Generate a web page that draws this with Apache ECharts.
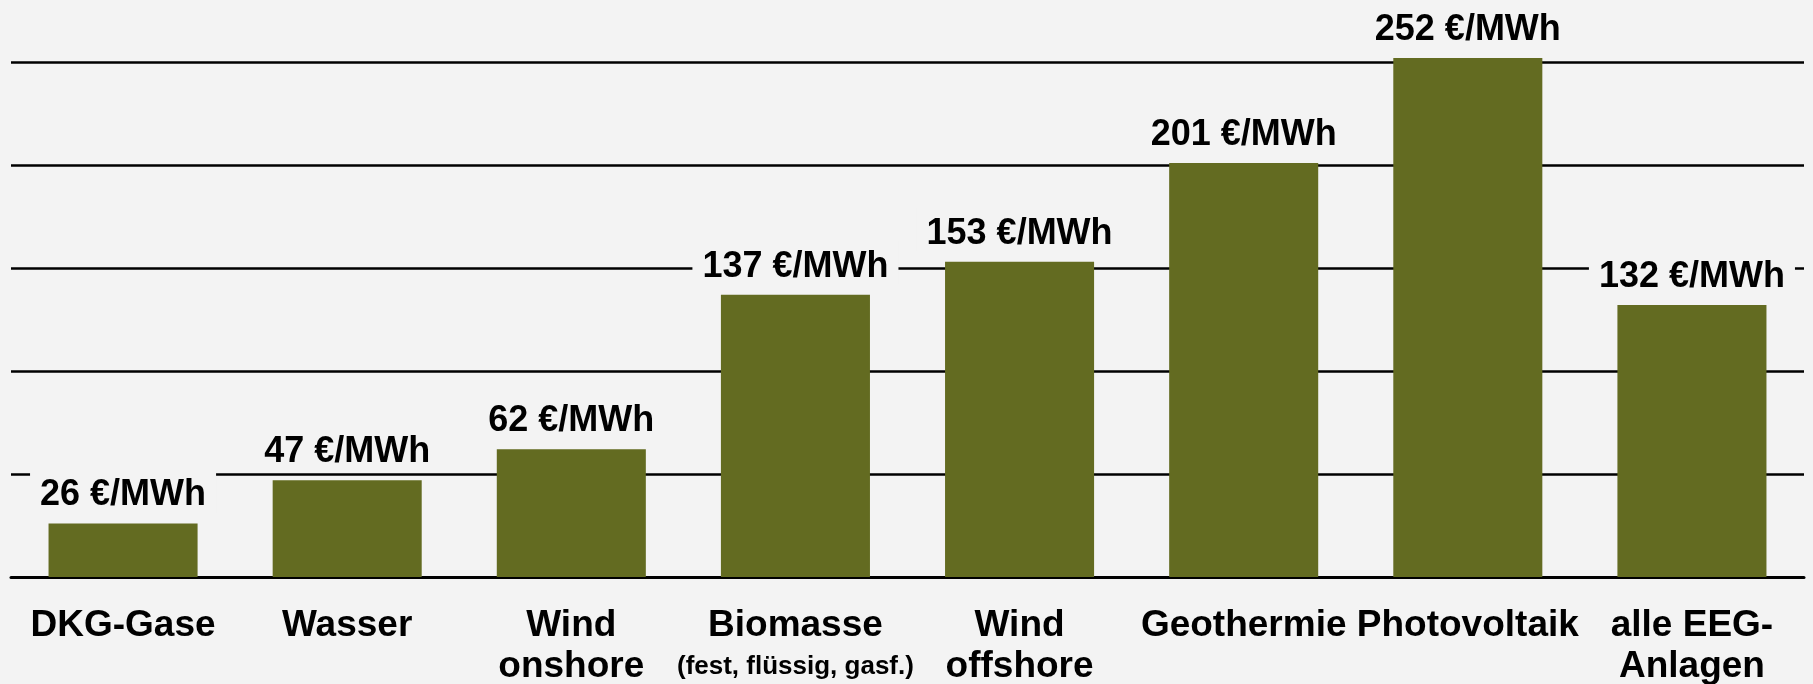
<!DOCTYPE html>
<html>
<head>
<meta charset="utf-8">
<script src="https://cdn.jsdelivr.net/npm/echarts@6/dist/echarts.min.js"></script>
<style>
  html, body { margin: 0; padding: 0; background: #f3f3f3; }
  #chart { width: 1813px; height: 684px; }
</style>
</head>
<body>
<div id="chart"></div>
<script>
// Vergütung je Energieträger in €/MWh
const categories = ['DKG-Gase', 'Wasser', 'Wind\nonshore', 'Biomasse\n{s|(fest, flüssig, gasf.)}', 'Wind\noffshore', 'Geothermie', 'Photovoltaik', 'alle EEG-\nAnlagen'];
const values = [26, 47, 62, 137, 153, 201, 252, 132];
const unit = '€/MWh';
const yTicks = { min: 0, max: 250, step: 50 };

const FONT = '"Liberation Sans", Arial, Helvetica, sans-serif';
const BG = '#f3f3f3';

const chart = echarts.init(document.getElementById('chart'), null, { renderer: 'canvas' });

chart.setOption({
  backgroundColor: BG,
  animation: false,
  grid: {
    left: 11, right: 9, top: 62, bottom: 107,
    containLabel: false,
    outerBoundsMode: 'none'
  },
  xAxis: {
    type: 'category',
    data: categories,
    axisLine: { show: true, lineStyle: { color: '#000', width: 3 } },
    axisTick: { show: false },
    axisLabel: {
      interval: 0,
      margin: 28,
      color: '#000',
      fontFamily: FONT,
      fontWeight: 'bold',
      fontSize: 37,
      lineHeight: 41,
      align: 'center',
      rich: {
        s: { fontFamily: FONT, fontWeight: 'bold', fontSize: 26, lineHeight: 41, color: '#000' }
      }
    }
  },
  yAxis: {
    type: 'value',
    min: yTicks.min,
    max: yTicks.max,
    interval: yTicks.step,
    axisLine: { show: false },
    axisTick: { show: false },
    axisLabel: { show: false },
    splitLine: { show: true, lineStyle: { color: '#000', width: 2.5 } }
  },
  series: [{
    type: 'bar',
    data: values,
    clip: false,
    barCategoryGap: '33.5%',
    itemStyle: { color: '#636b21' },
    label: {
      show: true,
      position: 'top',
      distance: 10,
      formatter: p => p.value + ' ' + unit,
      color: '#000',
      fontFamily: FONT,
      fontWeight: 'bold',
      fontSize: 36,
      lineHeight: 36,
      backgroundColor: BG,
      padding: [8, 10, 0, 10]
    }
  }]
});
</script>
</body>
</html>
